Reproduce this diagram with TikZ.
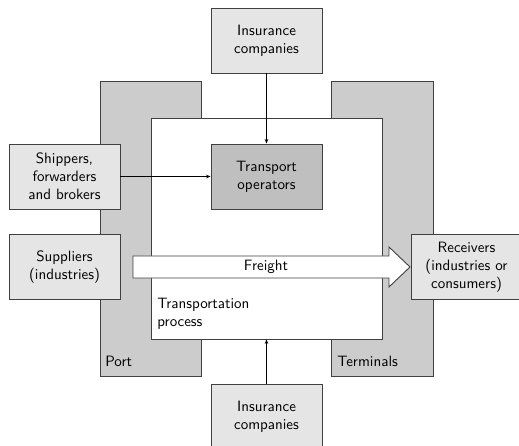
\documentclass[tikz,border=0pt]{standalone}
\usepackage{tikz}
\usetikzlibrary{arrows.meta,positioning}

\tikzset{
  actor/.style={draw=black!75, line width=0.6pt, fill=black!10, align=center,
    minimum width=74pt, minimum height=43.4pt, font=\sffamily},
  region/.style={draw=black!75, line width=0.6pt, fill=black!20},
  flow/.style={-{Stealth[length=3pt,width=2.4pt]}, line width=0.5pt}
}

\begin{document}
\begin{tikzpicture}[x=0.667pt, y=-0.667pt]
\useasboundingbox (0,0) rectangle (519,446);

% port and terminals behind the process
\node[region, minimum width=67.4pt, minimum height=196.8pt] (port) at (150.5,228.5) {};
\node[region, minimum width=68pt, minimum height=196.8pt] (term) at (382,228.5) {};
\node[draw=black!75, line width=0.6pt, fill=white, minimum width=154pt, minimum height=147.4pt] (proc) at (266.5,228.5) {};
\node[font=\sffamily, anchor=base west, inner sep=0pt] (portlbl) at (105,366) {Port};
\node[font=\sffamily, anchor=base west, inner sep=0pt] (termlbl) at (337,366) {Terminals};
\node[font=\sffamily, anchor=north west, align=left, inner sep=0pt] (proclbl) at (157,298) {Transportation\\process};

% actors
\node[actor] (insT) at (266.5,40.5) {Insurance\\companies};
\node[actor, fill=black!25] (ops) at (266.5,176.5) {Transport\\operators};
\node[actor] (ship) at (64.5,176.5) {Shippers,\\forwarders\\and brokers};
\node[actor] (supp) at (64.5,267) {Suppliers\\(industries)};
\node[actor] (recv) at (466.5,267) {Receivers\\(industries or\\consumers)};
\node[actor] (insB) at (266.5,416.5) {Insurance\\companies};

% freight
\draw[black!75, line width=0.6pt, fill=white] (133,256) -- (389,256) -- (389,247) -- (410,267)
  -- (389,287) -- (389,278) -- (133,278) -- cycle;
\node[font=\sffamily] (freight) at (266,267) {Freight};

\draw[flow] (insT) -- (ops);
\draw[flow] (ship) -- (ops);
\draw[flow] (insB) -- (proc);
\end{tikzpicture}
\end{document}
